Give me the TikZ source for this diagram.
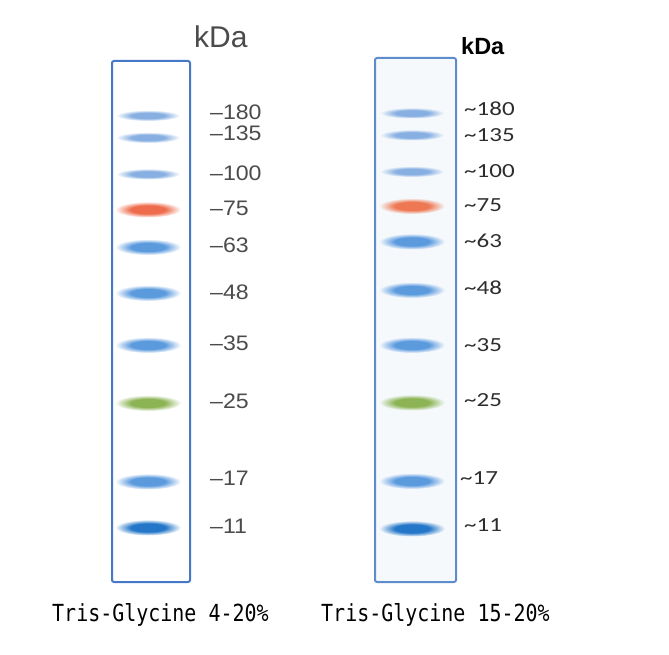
\documentclass[tikz,border=0pt]{standalone}
\usepackage{fontspec}
\usetikzlibrary{shapes.geometric}
\newfontfamily\lablfont[FakeStretch=1.1]{Liberation Sans}
\newfontfamily\kdafont{Liberation Sans}
\newfontfamily\carfont[FakeStretch=1.25]{Carlito}
\newfontfamily\monofont[FakeStretch=0.85]{DejaVu Sans Mono}
\definecolor{laneA}{RGB}{70,120,200}
\definecolor{laneB}{RGB}{95,140,205}
\definecolor{bgB}{RGB}{245,249,252}
\definecolor{cLight}{RGB}{135,175,226}
\definecolor{cBlue}{RGB}{92,154,222}
\definecolor{cDark}{RGB}{35,118,200}
\definecolor{cRed}{RGB}{238,108,76}
\definecolor{cOrange}{RGB}{238,120,84}
\definecolor{cGreen}{RGB}{140,180,84}
\definecolor{txtA}{RGB}{75,75,75}
\definecolor{txtB}{RGB}{45,45,45}
\newcommand\mkband[3]{\pgfdeclareradialshading{#1}{\pgfpoint{0bp}{0bp}}{color(0bp)=(#2); color(13bp)=(#2); color(25bp)=(#3); color(50bp)=(#3)}}
\mkband{shLightA}{cLight}{white}
\mkband{shBlueA}{cBlue}{white}
\mkband{shDarkA}{cDark}{white}
\mkband{shRedA}{cRed}{white}
\mkband{shGreenA}{cGreen}{white}
\mkband{shLightB}{cLight}{bgB}
\mkband{shBlueB}{cBlue}{bgB}
\mkband{shDarkB}{cDark}{bgB}
\mkband{shRedB}{cOrange}{bgB}
\mkband{shGreenB}{cGreen}{bgB}
\tikzset{
  lanebox/.style={draw, line width=2pt, rounded corners=2pt, inner sep=0pt},
  band/.style={ellipse, minimum width=66pt, minimum height=16pt, inner sep=0pt},
  thinband/.style={ellipse, minimum width=64pt, minimum height=11pt, inner sep=0pt},
  llab/.style={anchor=west, inner sep=0pt, text=txtA, font=\lablfont\fontsize{21}{21}\selectfont},
  rlab/.style={anchor=west, inner sep=0pt, text=txtB, font=\carfont\fontsize{20}{20}\selectfont},
  caption/.style={anchor=base west, inner sep=0pt, text=black, font=\monofont\fontsize{23.5}{24}\selectfont}
}
\begin{document}
\begin{tikzpicture}[x=1pt,y=-1pt]
\useasboundingbox (0,0) rectangle (669,655);
\fill[white] (0,0) rectangle (669,655);
% lanes
\node[lanebox, draw=laneA, fill=white, minimum width=78pt, minimum height=521pt] (laneL) at (151,321.5) {};
\node[lanebox, draw=laneB, fill=bgB, minimum width=81pt, minimum height=524pt] (laneR) at (415.5,320) {};
% left bands
\node[thinband, shading=shLightA] (bL180) at (148,115.5) {};
\node[thinband, shading=shLightA] (bL135) at (148,137.5) {};
\node[thinband, shading=shLightA] (bL100) at (148,174) {};
\node[band, shading=shRedA]   (bL75)  at (148,209.5) {};
\node[band, shading=shBlueA]  (bL63)  at (148,247) {};
\node[band, shading=shBlueA]  (bL48)  at (148,293) {};
\node[band, shading=shBlueA]  (bL35)  at (148,345) {};
\node[band, shading=shGreenA] (bL25)  at (148,403) {};
\node[band, shading=shBlueA]  (bL17)  at (148,481.5) {};
\node[band, shading=shDarkA]  (bL11)  at (148,527.5) {};
% right bands
\node[thinband, shading=shLightB] (bR180) at (412,113) {};
\node[thinband, shading=shLightB] (bR135) at (412,135) {};
\node[thinband, shading=shLightB] (bR100) at (412,171.5) {};
\node[band, shading=shRedB]   (bR75)  at (412,206) {};
\node[band, shading=shBlueB]  (bR63)  at (412,241.5) {};
\node[band, shading=shBlueB]  (bR48)  at (412,290) {};
\node[band, shading=shBlueB]  (bR35)  at (412,345) {};
\node[band, shading=shGreenB] (bR25)  at (412,402.5) {};
\node[band, shading=shBlueB]  (bR17)  at (412,481) {};
\node[band, shading=shDarkB]  (bR11)  at (412,528.5) {};
% headers
\node[anchor=west, inner sep=0pt, text=txtA, font=\kdafont\fontsize{30}{30}\selectfont] (kdaL) at (194,36.5) {kDa};
\node[anchor=west, inner sep=0pt, text=black, font=\kdafont\bfseries\fontsize{23.5}{24}\selectfont] (kdaR) at (461,46) {kDa};
% left labels
\node[llab] (lL180) at (210,112) {–180};
\node[llab] (lL135) at (210,133.5) {–135};
\node[llab] (lL100) at (210,173) {–100};
\node[llab] (lL75)  at (210,208) {–75};
\node[llab] (lL63)  at (210,245) {–63};
\node[llab] (lL48)  at (210,292) {–48};
\node[llab] (lL35)  at (210,343) {–35};
\node[llab] (lL25)  at (210,401) {–25};
\node[llab] (lL17)  at (210,478.5) {–17};
\node[llab] (lL11)  at (210,526.5) {–11};
% right labels
\node[rlab] (lR180) at (464,109) {\textasciitilde180};
\node[rlab] (lR135) at (464,135) {\textasciitilde135};
\node[rlab] (lR100) at (464,171.5) {\textasciitilde100};
\node[rlab] (lR75)  at (464,205) {\textasciitilde75};
\node[rlab] (lR63)  at (464,240.5) {\textasciitilde63};
\node[rlab] (lR48)  at (464,288) {\textasciitilde48};
\node[rlab] (lR35)  at (464,345) {\textasciitilde35};
\node[rlab] (lR25)  at (464,400) {\textasciitilde25};
\node[rlab] (lR17)  at (460,478) {\textasciitilde17};
\node[rlab] (lR11)  at (464,525.5) {\textasciitilde11};
% captions
\node[caption] (capL) at (52,621.5) {Tris-Glycine 4-20\%};
\node[caption] (capR) at (321,621.5) {Tris-Glycine 15-20\%};
\end{tikzpicture}
\end{document}
